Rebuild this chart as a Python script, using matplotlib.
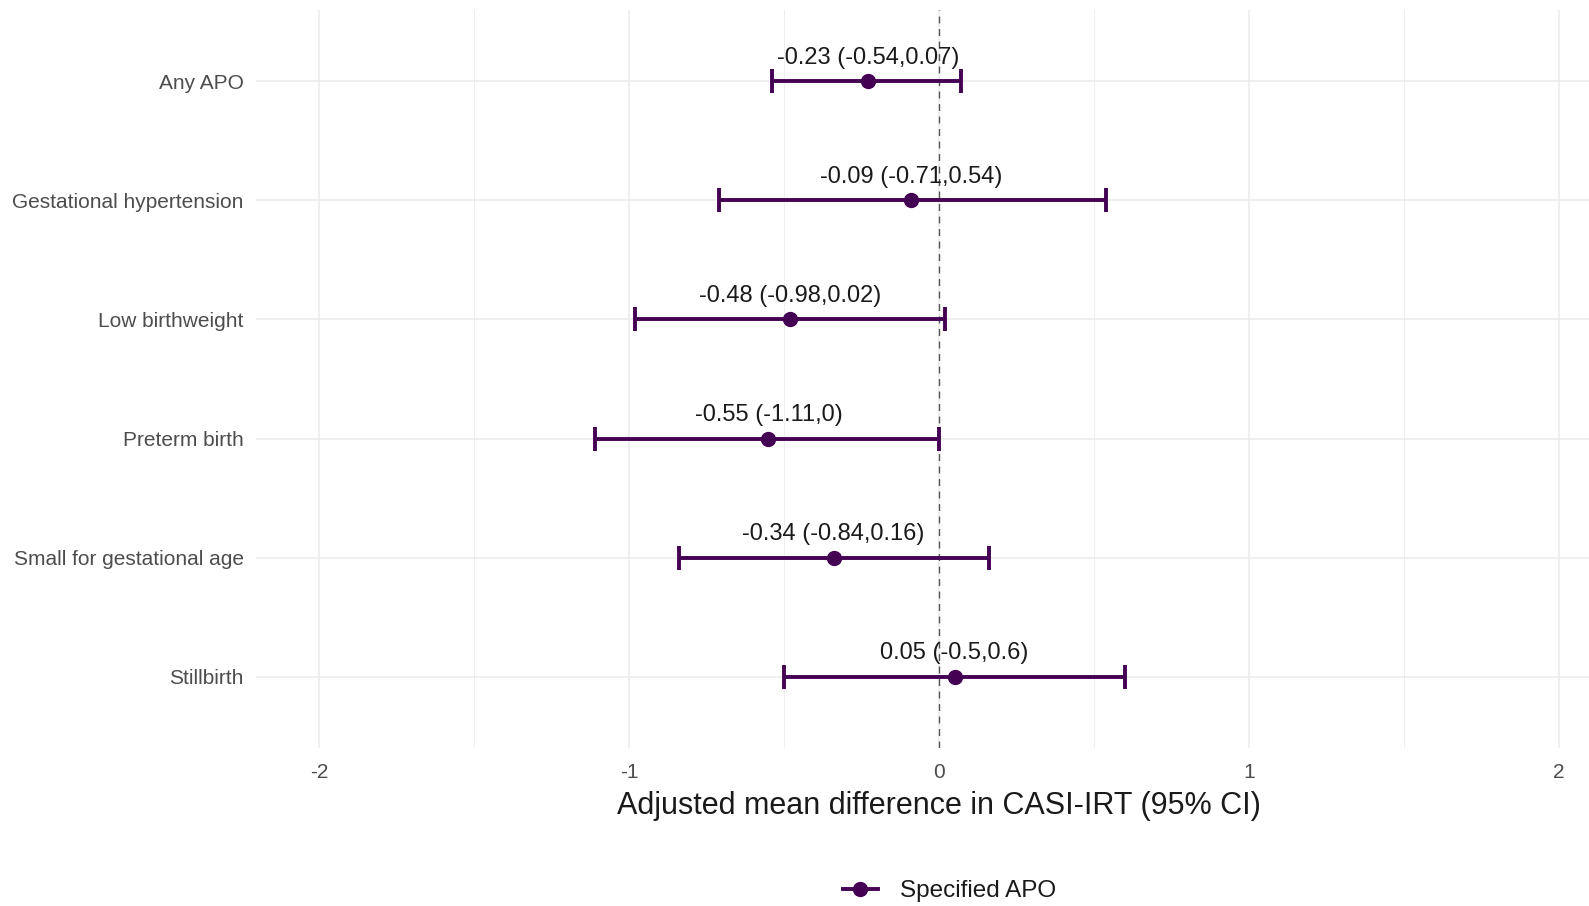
import matplotlib
matplotlib.use("Agg")
import matplotlib.pyplot as plt
from matplotlib.lines import Line2D
import numpy as np

plt.rcParams['font.family'] = ['Liberation Sans', 'DejaVu Sans']

categories = ["Any APO", "Gestational hypertension", "Low birthweight",
              "Preterm birth", "Small for gestational age", "Stillbirth"]
estimates = [-0.23, -0.09, -0.48, -0.55, -0.34, 0.05]
lower = [-0.54, -0.71, -0.98, -1.11, -0.84, -0.5]
upper = [0.07, 0.54, 0.02, 0, 0.16, 0.6]
labels = ["-0.23 (-0.54,0.07)", "-0.09 (-0.71,0.54)", "-0.48 (-0.98,0.02)",
          "-0.55 (-1.11,0)", "-0.34 (-0.84,0.16)", "0.05 (-0.5,0.6)"]
x_ticks = [-2, -1, 0, 1, 2]
x_minor = [-1.5, -0.5, 0.5, 1.5]
legend_label = "Specified APO"
xlabel = "Adjusted mean difference in CASI-IRT (95% CI)"

color = "#440154"
W, H = 1589, 906
fig = plt.figure(figsize=(W / 100, H / 100), dpi=100)
left_px, right_px, top_px, bot_px = 256, 1622, 10, 748
ax = fig.add_axes([left_px / W, 1 - bot_px / H, (right_px - left_px) / W, (bot_px - top_px) / H])

n = len(categories)
ypos = np.arange(n)[::-1]

ax.set_xlim(-2.203, 2.203)
ax.set_ylim(-0.6, n - 1 + 0.6)

# grid
for xv in x_ticks:
    ax.axvline(xv, color="#ebebeb", lw=1.1, zorder=0)
for xv in x_minor:
    ax.axvline(xv, color="#ebebeb", lw=0.6, zorder=0)
for yv in ypos:
    ax.axhline(yv, color="#ebebeb", lw=1.1, zorder=0)

ax.axvline(0, color="#555555", lw=1.0, ls=(0, (5, 4)), zorder=1)

est = np.array(estimates)
lo = np.array(lower)
hi = np.array(upper)
ax.errorbar(est, ypos, xerr=[est - lo, hi - est], fmt='o', color=color,
            ecolor=color, elinewidth=2.8, capsize=8.5, capthick=2.8,
            markersize=10, zorder=3)

for xv, yv, t in zip(estimates, ypos, labels):
    ax.annotate(t, (xv, yv), xytext=(0, 17), textcoords='offset points',
                ha='center', va='center', fontsize=17, color="#1a1a1a")

ax.set_xticks(x_ticks)
ax.set_xticklabels([str(v) for v in x_ticks])
ax.set_yticks(ypos)
ax.set_yticklabels(categories)
ax.tick_params(axis='both', length=0, labelsize=15, labelcolor="#4d4d4d")
ax.tick_params(axis='y', pad=9)
ax.tick_params(axis='x', pad=11)
for s in ax.spines.values():
    s.set_visible(False)
ax.set_xlabel(xlabel, fontsize=22, color="#1a1a1a", labelpad=6.5)

handle = Line2D([0], [0], color=color, lw=2.8, marker='o', markersize=10)
fig.legend([handle], [legend_label], loc='center left',
           bbox_to_anchor=(843 / W, 1 - 891 / H), frameon=False,
           fontsize=17.5, handlelength=1.42, handletextpad=0.92, borderpad=0,
           borderaxespad=0, labelcolor="#1a1a1a")

fig.savefig("out.png", dpi=100)
